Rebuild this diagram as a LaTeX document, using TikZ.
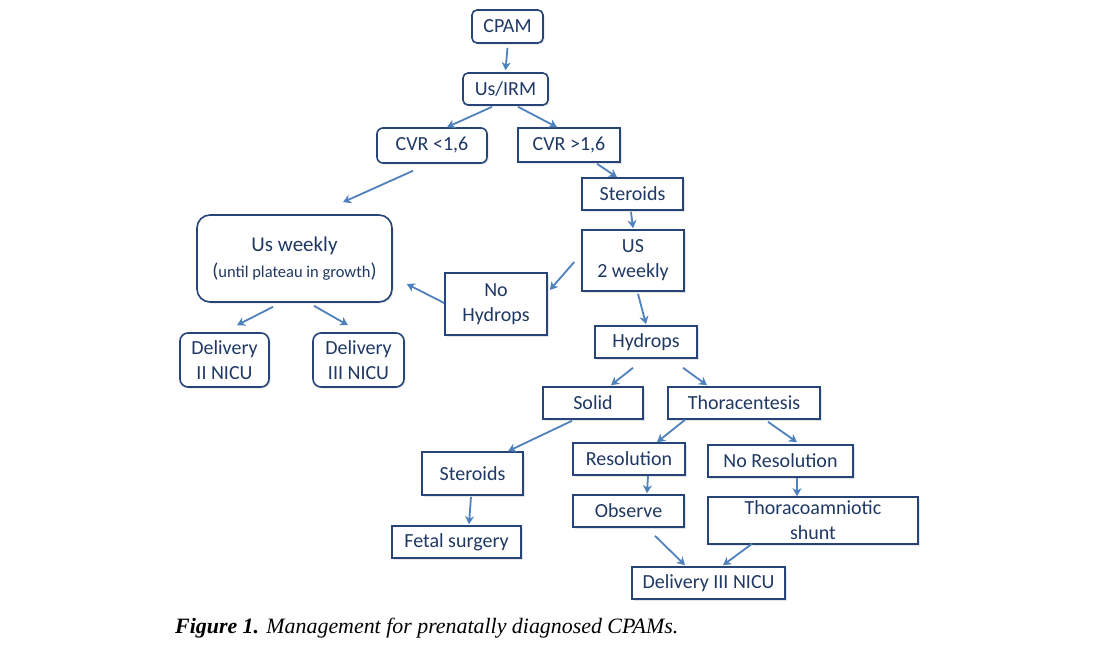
\documentclass[tikz,border=0pt]{standalone}
\usepackage{fontspec}
\setmainfont{Carlito}
\newfontfamily\capfont{Liberation Serif}
\usetikzlibrary{arrows.meta,shadows}
\definecolor{boxline}{RGB}{38,68,120}
\definecolor{boxtext}{RGB}{31,56,100}
\definecolor{arrline}{RGB}{79,129,189}
\tikzset{
  sq/.style={draw=boxline,line width=1.6pt,fill=white,text=boxtext,inner sep=0pt,
    align=center,font=\fontsize{20}{25}\selectfont,
    drop shadow={shadow xshift=1.5pt,shadow yshift=-1.5pt,opacity=0.2}},
  rd/.style={sq,rounded corners=5pt},
  link/.style={draw=arrline,line width=1.8pt,-{Stealth[length=8pt,width=9pt,inset=2.5pt]}},
}
\begin{document}
\begin{tikzpicture}[x=1pt,y=-1pt]
      \path[use as bounding box,fill=white] (0,0) rectangle (1095,653);
      \path
        (507.5,26.5) node[rd,minimum width=71pt,minimum height=33pt] (cpam){CPAM}
        (505.5,89) node[rd,minimum width=85pt,minimum height=32pt] (usirm){Us/IRM}
        (432,145.5) node[rd,rounded corners=6pt,minimum width=110pt,minimum height=35pt] (cvrlo){CVR <1,6}
        (569,145) node[sq,minimum width=102pt,minimum height=34pt] (cvrhi){CVR >1,6}
        (632.5,194) node[sq,minimum width=101pt,minimum height=32pt] (ster){Steroids}
        (633,260.5) node[sq,minimum width=102pt,minimum height=61pt] (usbi){US\\2 weekly}
        (294.5,258.5) node[rd,rounded corners=13pt,minimum width=195pt,minimum height=87pt] (usweek)
          {\fontsize{21}{25}\selectfont Us weekly\\[1pt]({\fontsize{16.5}{17}\selectfont until plateau in growth})}
        (496,304) node[sq,minimum width=102pt,minimum height=62pt] (nohyd){No\\Hydrops}
        (224.5,360) node[rd,rounded corners=8pt,minimum width=89pt,minimum height=54pt] (del2){Delivery\\II NICU}
        (358.5,360) node[rd,rounded corners=8pt,minimum width=91pt,minimum height=54pt] (del3){Delivery\\III NICU}
        (646,342) node[sq,minimum width=102pt,minimum height=32pt] (hyd){Hydrops}
        (593,403) node[sq,minimum width=100pt,minimum height=32pt] (solid){Solid}
        (744,403) node[sq,minimum width=152pt,minimum height=32pt] (thora){Thoracentesis}
        (472.5,473.5) node[sq,minimum width=101pt,minimum height=43pt] (ster2){Steroids}
        (629,459) node[sq,minimum width=112pt,minimum height=32pt] (resol){Resolution}
        (780.5,461) node[sq,minimum width=145pt,minimum height=32pt] (nores){No Resolution}
        (628.5,511) node[sq,minimum width=111pt,minimum height=32pt] (obs){Observe}
        (813,520.5) node[sq,minimum width=210pt,minimum height=47pt] (shunt){Thoracoamniotic\\shunt}
        (456.5,542) node[sq,minimum width=129pt,minimum height=32pt] (fetal){Fetal surgery}
        (708.5,583) node[sq,minimum width=153pt,minimum height=32pt] (deliv){Delivery III NICU};
      \node[anchor=base west,inner sep=0pt,font=\capfont\fontsize{21.9}{24}\selectfont] (cap) at (175,633)
        {\textbf{\textit{Figure 1.}} \textit{Management for prenatally diagnosed CPAMs.}};
      \begin{scope}[link]
        \draw ([yshift=-4pt]cpam.south) to ([yshift=2pt]usirm.north);
        \draw ([xshift=-13.5pt,yshift=-1pt]usirm.south) to ([xshift=15pt]cvrlo.north);
        \draw ([xshift=12.5pt,yshift=-1pt]usirm.south) to ([xshift=-12pt]cvrhi.north);
        \draw ([xshift=-19pt,yshift=-7pt]cvrlo.south) to ([xshift=48.5pt,yshift=12pt]usweek.north);
        \draw ([xshift=28pt,yshift=-1pt]cvrhi.south) to ([xshift=-15.5pt]ster.north);
        \draw ([xshift=-1.5pt,yshift=-1pt]ster.south) to ([yshift=1pt]usbi.north);
        \draw ([xshift=-7pt,yshift=-1.5pt]usbi.west) to ([xshift=2pt,yshift=14pt]nohyd.east);
        \draw ([yshift=1pt]nohyd.west) to ([xshift=14pt,yshift=-25.5pt]usweek.east);
        \draw ([xshift=5pt,yshift=-2pt]usbi.south) to ([yshift=1pt]hyd.north);
        \draw ([xshift=-21.5pt,yshift=-4pt]usweek.south) to ([xshift=12.5pt,yshift=7pt]del2.north);
        \draw ([xshift=19.5pt,yshift=-3pt]usweek.south) to ([xshift=-10.5pt,yshift=7pt]del3.north);
        \draw ([xshift=-13pt,yshift=-9pt]hyd.south) to ([xshift=18pt,yshift=1pt]solid.north);
        \draw ([xshift=37pt,yshift=-9pt]hyd.south) to ([xshift=-37pt,yshift=1pt]thora.north);
        \draw ([xshift=-21pt,yshift=-1pt]solid.south) to ([xshift=35.5pt]ster2.north);
        \draw ([xshift=-59pt]thora.south) to ([xshift=28pt]resol.north);
        \draw ([xshift=24pt,yshift=-2pt]thora.south) to ([xshift=16.5pt,yshift=2pt]nores.north);
        \draw ([xshift=-1.5pt,yshift=-1pt]ster2.south) to ([xshift=12.5pt,yshift=1pt]fetal.north);
        \draw ([xshift=19pt]resol.south) to ([xshift=18.5pt,yshift=1pt]obs.north);
        \draw ([xshift=16.5pt]nores.south) to ([xshift=-16pt]shunt.north);
        \draw ([xshift=26.5pt,yshift=-8pt]obs.south) to ([xshift=-23.5pt,yshift=1pt]deliv.north);
        \draw ([xshift=-61pt,yshift=1pt]shunt.south) to ([xshift=14.5pt,yshift=1pt]deliv.north);
      \end{scope}
    \end{tikzpicture}
\end{document}
